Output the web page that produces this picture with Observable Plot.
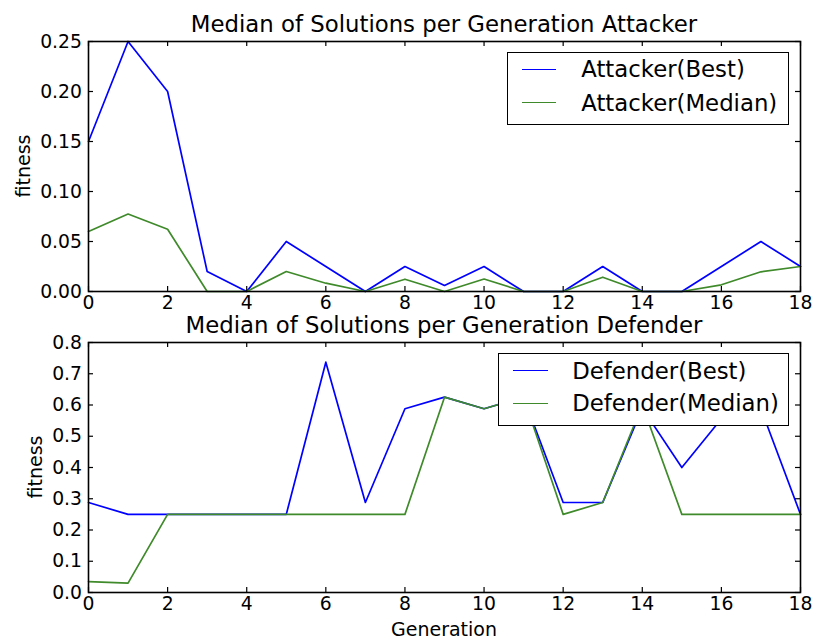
<!DOCTYPE html>
<html>
<head>
<meta charset="utf-8">
<script src="https://cdn.jsdelivr.net/npm/d3@7"></script>
<script src="https://cdn.jsdelivr.net/npm/@observablehq/plot@0.6"></script>
<style>
  html, body { margin: 0; padding: 0; background: #fff; }
  #fig { position: relative; width: 816px; height: 644px; font-family: "DejaVu Sans", sans-serif; color: #000; overflow: hidden; }
  #fig .abs { position: absolute; white-space: nowrap; line-height: 1; }
  .title { font-size: 22.8px; text-align: center; }
  .lab { font-size: 19px; }
  .legend { position: absolute; background: #fff; border: 1.5px solid #000; box-sizing: border-box; }
  .legend .sw { position: absolute; height: 0; border-top: 1.8px solid; }
  .legend .tx { position: absolute; font-size: 22.8px; line-height: 1; white-space: nowrap; }
  .rot { transform-origin: 0 0; }
</style>
</head>
<body>
<div id="fig"></div>
<script>
// ---- data ----
const generations = [0,1,2,3,4,5,6,7,8,9,10,11,12,13,14,15,16,17,18];
const attackerBest   = [0.15,0.25,0.2,0.02,0,0.05,0.025,0,0.025,0.006,0.025,0,0,0.025,0,0,0.025,0.05,0.025];
const attackerMedian = [0.06,0.0775,0.0622,0,0,0.02,0.0083,0,0.0123,0,0.0125,0,0,0.0143,0,0,0.0067,0.0197,0.025];
const defenderBest   = [0.288,0.25,0.25,0.25,0.25,0.25,0.737,0.288,0.588,0.625,0.588,0.625,0.288,0.288,0.59,0.4,0.556,0.588,0.25];
const defenderMedian = [0.035,0.03,0.25,0.25,0.25,0.25,0.25,0.25,0.25,0.625,0.588,0.625,0.25,0.288,0.6,0.25,0.25,0.25,0.25];
const xTicks = [0,2,4,6,8,10,12,14,16,18];
const yTicksTop = [0,0.05,0.1,0.15,0.2,0.25];
const yTicksBottom = [0,0.1,0.2,0.3,0.4,0.5,0.6,0.7,0.8];
const titles = ["Median of Solutions per Generation Attacker", "Median of Solutions per Generation Defender"];
const seriesTop = ["Attacker(Best)", "Attacker(Median)"];
const seriesBottom = ["Defender(Best)", "Defender(Median)"];
const colors = ["#0000ff", "#3f8a2a"];

const fig = document.getElementById("fig");

function panel({best, median, xDomain, yDomain, yTicks, yFmt, top, height, mt, mb}) {
  const rows = generations.map((g, i) => ({g, best: best[i], median: median[i]}));
  const tk = 5; // inward tick length (px)
  const tickStyle = {stroke: "#000", strokeWidth: 1.2};
  const svg = Plot.plot({
    width: 816, height,
    marginLeft: 88, marginRight: 16, marginTop: mt, marginBottom: mb,
    style: {fontFamily: "DejaVu Sans, sans-serif", fontSize: "18.8px", background: "transparent", color: "#000", overflow: "visible"},
    x: {domain: xDomain},
    y: {domain: yDomain},
    marks: [
      Plot.line(rows, {x: "g", y: "best", stroke: colors[0], strokeWidth: 1.7}),
      Plot.line(rows, {x: "g", y: "median", stroke: colors[1], strokeWidth: 1.7}),
      Plot.axisX({anchor: "bottom", ticks: xTicks, tickSize: 0, tickPadding: 4, label: null, fontSize: 18.8}),
      Plot.axisY({anchor: "left", ticks: yTicks, tickSize: 0, tickPadding: 6.5, tickFormat: d3.format(yFmt), label: null, fontSize: 18.8}),
      // inward ticks on all four sides
      Plot.ruleX(xTicks, {x: d => d, y1: () => yDomain[0], y2: () => yDomain[0], insetBottom: tk, ...tickStyle}),
      Plot.ruleX(xTicks, {x: d => d, y1: () => yDomain[1], y2: () => yDomain[1], insetTop: tk, ...tickStyle}),
      Plot.ruleY(yTicks, {y: d => d, x1: () => xDomain[0], x2: () => xDomain[0], insetRight: -tk, ...tickStyle}),
      Plot.ruleY(yTicks, {y: d => d, x1: () => xDomain[1], x2: () => xDomain[1], insetLeft: -tk, ...tickStyle}),
      Plot.frame({stroke: "#000", strokeWidth: 1.6})
    ]
  });
  svg.style.position = "absolute";
  svg.style.left = "0px";
  svg.style.top = top + "px";
  fig.appendChild(svg);
}

panel({best: attackerBest, median: attackerMedian, xDomain: [0, 18], yDomain: [0, 0.25], yTicks: yTicksTop, yFmt: ".2f", top: 0, height: 322, mt: 41, mb: 31});
panel({best: defenderBest, median: defenderMedian, xDomain: [0, 18], yDomain: [0, 0.8], yTicks: yTicksBottom, yFmt: ".1f", top: 322, height: 322, mt: 20, mb: 52});

function addText(cls, text, left, top, extra = {}) {
  const d = document.createElement("div");
  d.className = "abs " + cls;
  d.textContent = text;
  d.style.left = left + "px";
  d.style.top = top + "px";
  Object.assign(d.style, extra);
  fig.appendChild(d);
  return d;
}
// titles (baseline offset ~0.846em for DejaVu Sans with line-height 1)
addText("title", titles[0], 88, 32.7 - 19.3, {width: "712px"});
addText("title", titles[1], 88, 333 - 19.3, {width: "712px"});
// x label
addText("lab", "Generation", 88, 636.5 - 16.1, {width: "712px", textAlign: "center"});
// y labels (rotated)
function yLabel(baselineX, centerY) {
  const d = addText("lab rot", "fitness", baselineX, centerY);
  d.style.transform = "rotate(-90deg) translate(-50%, -16.1px)";
}
yLabel(30, 166);
yLabel(41.7, 466.7);

function legend(names, box, sw, txX, rowY, baseY) {
  const L = document.createElement("div");
  L.className = "legend";
  L.style.left = box[0] + "px"; L.style.top = box[1] + "px";
  L.style.width = box[2] + "px"; L.style.height = box[3] + "px";
  fig.appendChild(L);
  names.forEach((n, i) => {
    const s = document.createElement("div");
    s.className = "sw";
    s.style.borderColor = colors[i];
    s.style.left = (sw[0] - box[0] - 1.5) + "px";
    s.style.width = (sw[1] - sw[0]) + "px";
    s.style.top = (rowY[i] - box[1] - 1.5 - 0.9) + "px";
    L.appendChild(s);
    const t = document.createElement("div");
    t.className = "tx";
    t.textContent = n;
    t.style.left = (txX - box[0] - 1.5) + "px";
    t.style.top = (baseY[i] - 19.3 - box[1] - 1.5) + "px";
    L.appendChild(t);
  });
}
legend(seriesTop, [507.3, 51.7, 281.4, 73.6], [523, 557], 581.7, [70, 103.3], [78.3, 111.7]);
legend(seriesBottom, [497.7, 352.7, 291, 73.3], [513.3, 548.3], 572.7, [371, 404.3], [379.5, 412]);
</script>
</body>
</html>
